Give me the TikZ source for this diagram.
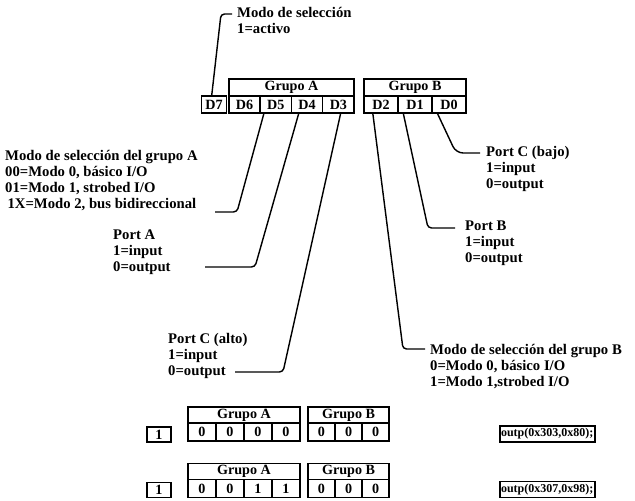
\documentclass[tikz,border=0pt]{standalone}
\usepackage{fontspec}
\setmainfont{Liberation Serif}
\usetikzlibrary{positioning}
\tikzset{
  lbl/.style={align=left, anchor=west, inner sep=0pt, font=\bfseries\fontsize{12.5}{13.6}\selectfont},
  cell/.style={draw, line width=1.2pt, inner sep=0pt, outer sep=0pt, font=\bfseries\fontsize{12}{12}\selectfont},
  acell/.style={cell, minimum width=26.6pt, minimum height=14.5pt},
  bcell/.style={cell, minimum width=28.9pt, minimum height=14.5pt},
  lowa/.style={cell, minimum width=23.8pt, minimum height=15pt},
  lowb/.style={cell, minimum width=23pt, minimum height=15pt},
  code/.style={draw, line width=1.2pt, inner xsep=1pt, inner ysep=0pt, text width=79pt, align=left,
    minimum height=13.5pt, font=\bfseries\fontsize{10.2}{11}\selectfont},
  lead/.style={line width=1.2pt, rounded corners=3pt}
}
\begin{document}
\begin{tikzpicture}[x=0.85pt, y=-0.85pt]
\useasboundingbox (0,0) rectangle (635,501);
% control word
\node[cell, minimum width=21pt, minimum height=14.5pt] (d7) at (214,104.5) {D7};
\node[acell] (d6) at (244.5,104.5) {D6};
\node[acell, right=0pt of d6] (d5) {D5};
\node[acell, right=0pt of d5] (d4) {D4};
\node[acell, right=0pt of d4] (d3) {D3};
\node[cell, minimum width=106.4pt, minimum height=14.5pt, above right=0pt of d6.north west] (grpA) {Grupo A};
\node[bcell] (d2) at (381,104.5) {D2};
\node[bcell, right=0pt of d2] (d1) {D1};
\node[bcell, right=0pt of d1] (d0) {D0};
\node[cell, minimum width=86.7pt, minimum height=14.5pt, above right=0pt of d2.north west] (grpB) {Grupo B};
% labels
\node[lbl] (sel) at (237,20) {Modo de selección\\1=activo};
\node[lbl] (modA) at (5,181) {Modo de selección del grupo A\\00=Modo 0, básico I/O\\01=Modo 1, strobed I/O\\\hspace{2pt}1X=Modo 2, bus bidireccional};
\node[lbl] (portA) at (113,252) {Port A\\1=input\\0=output};
\node[lbl] (portCa) at (168,356) {Port C (alto)\\1=input\\0=output};
\node[lbl] (portCb) at (486,169) {Port C (bajo)\\1=input\\0=output};
\node[lbl] (portB) at (465,243) {Port B\\1=input\\0=output};
\node[lbl] (modB) at (430,367) {Modo de selección del grupo B\\0=Modo 0, básico I/O\\1=Modo 1,strobed I/O};
% leaders
\coordinate (eSel) at (232,14);
\coordinate (eModA) at (215,212);
\coordinate (ePortA) at (205,267);
\coordinate (ePortCa) at (235,372);
\coordinate (ePortCb) at (480,153);
\coordinate (ePortB) at (455,228);
\coordinate (eModB) at (425,349);
\draw[lead] ([xshift=-2pt]d7.north) -- (221,14) -- (eSel);
\draw[lead] ([xshift=-10pt]d5.south) -- (237,212) -- (eModA);
\draw[lead] ([xshift=-7pt]d4.south) -- (255,267) -- (ePortA);
\draw[lead] ([xshift=2pt]d3.south) -- (283,372) -- (ePortCa);
\draw[lead] ([xshift=-7pt]d2.south) -- (403,349) -- (eModB);
\draw[lead] ([xshift=-10pt]d1.south) -- (428,228) -- (ePortB);
\draw[lead, rounded corners=6pt] ([xshift=-10pt]d0.south) -- (456,153) -- (ePortCb);
% first example
\node[cell, minimum width=20.4pt, minimum height=12.8pt] (v1b7) at (159,434.5) {1};
\node[lowa] (v1b6) at (202,432) {0};
\node[lowa, right=0pt of v1b6] (v1b5) {0};
\node[lowa, right=0pt of v1b5] (v1b4) {0};
\node[lowa, right=0pt of v1b4] (v1b3) {0};
\node[cell, minimum width=95.2pt, minimum height=13.6pt, above right=0pt of v1b6.north west] (v1ga) {Grupo A};
\node[lowb] (v1b2) at (321.5,432) {0};
\node[lowb, right=0pt of v1b2] (v1b1) {0};
\node[lowb, right=0pt of v1b1] (v1b0) {0};
\node[cell, minimum width=69pt, minimum height=13.6pt, above right=0pt of v1b2.north west] (v1gb) {Grupo B};
\node[code] (v1out) at (547.5,434) {outp(0x303,0x80);};
% second example
\node[cell, minimum width=20.4pt, minimum height=12.8pt] (v2b7) at (159,490) {1};
\node[lowa] (v2b6) at (202,488.5) {0};
\node[lowa, right=0pt of v2b6] (v2b5) {0};
\node[lowa, right=0pt of v2b5] (v2b4) {1};
\node[lowa, right=0pt of v2b4] (v2b3) {1};
\node[cell, minimum width=95.2pt, minimum height=14pt, above right=0pt of v2b6.north west] (v2ga) {Grupo A};
\node[lowb] (v2b2) at (321.5,488.5) {0};
\node[lowb, right=0pt of v2b2] (v2b1) {0};
\node[lowb, right=0pt of v2b1] (v2b0) {0};
\node[cell, minimum width=69pt, minimum height=14pt, above right=0pt of v2b2.north west] (v2gb) {Grupo B};
\node[code] (v2out) at (547.5,489.5) {outp(0x307,0x98);};
\end{tikzpicture}
\end{document}
